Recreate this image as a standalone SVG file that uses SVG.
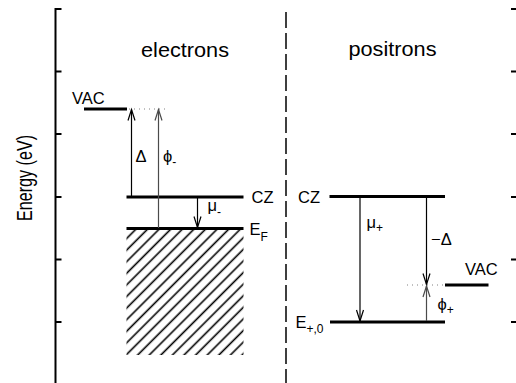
<svg xmlns="http://www.w3.org/2000/svg" width="516" height="383" viewBox="0 0 516 383">
<style>
text{font-family:"Liberation Sans",Arial,sans-serif;fill:#000}
.lbl{font-size:16.5px}
.sub{font-size:12px}
.title{font-size:19.5px}
.axis{stroke:#000;stroke-width:2;fill:none}
.level{stroke:#000;stroke-width:3;fill:none}
.arr{stroke:#000;stroke-width:1.2;fill:none}
.arrg{stroke:#4a4a4a;stroke-width:1.2;fill:none}
.dot{stroke:#808080;stroke-width:1;stroke-dasharray:1 4;fill:none}
</style>
<defs>
<marker id="ah" viewBox="-12 -5 14 10" refX="0" refY="0" markerWidth="14" markerHeight="10" markerUnits="userSpaceOnUse" orient="auto" overflow="visible">
<path d="M-11,-3.5 L0,0 L-11,3.5" fill="none" stroke="#000" stroke-width="1.2"/>
</marker>
<marker id="ahg" viewBox="-12 -5 14 10" refX="0" refY="0" markerWidth="14" markerHeight="10" markerUnits="userSpaceOnUse" orient="auto" overflow="visible">
<path d="M-11,-3.5 L0,0 L-11,3.5" fill="none" stroke="#4a4a4a" stroke-width="1.2"/>
</marker>
<pattern id="hatch" patternUnits="userSpaceOnUse" width="8.2" height="10" patternTransform="rotate(45)">
<line x1="4" y1="0" x2="4" y2="10" stroke="#000" stroke-width="1.6"/>
</pattern>
</defs>

<g id="axes">
<line class="axis" x1="55.5" y1="8" x2="55.5" y2="383"/>
<path class="axis" d="M55.5,9H61.5M55.5,71.5H61.5M55.5,134H61.5M55.5,197H61.5M55.5,259.5H61.5M55.5,322H61.5"/>
<path class="axis" d="M511,9H516M511,71.5H516M511,134H516M511,197H516M511,259.5H516M511,322H516"/>
<line x1="286" y1="12" x2="286" y2="383" stroke="#000" stroke-width="1.5" stroke-dasharray="16 5"/>
<text transform="translate(31.5,178) rotate(-90) scale(1,1.3)" text-anchor="middle" style="font-size:16.5px" textLength="86" lengthAdjust="spacingAndGlyphs">Energy (eV)</text>
</g>

<g id="electrons-title"><text class="title" x="185" y="56.5" text-anchor="middle" textLength="88" lengthAdjust="spacingAndGlyphs">electrons</text></g>
<g id="positrons-title"><text class="title" x="392.5" y="56" text-anchor="middle" textLength="88" lengthAdjust="spacingAndGlyphs">positrons</text></g>

<g id="e-vac">
<line class="level" x1="84" y1="109" x2="127" y2="109"/>
<line class="dot" x1="129" y1="109" x2="166" y2="109"/>
<text class="lbl" x="72" y="103.5">VAC</text>
</g>
<g id="e-cz">
<line class="level" x1="126.5" y1="197" x2="243.5" y2="197"/>
<text class="lbl" x="251.5" y="203">CZ</text>
</g>
<g id="e-ef">
<rect x="126.5" y="229" width="117" height="126" fill="url(#hatch)"/>
<line class="level" x1="126.5" y1="228.5" x2="243.5" y2="228.5"/>
<text class="lbl" x="249.5" y="234.5">E<tspan class="sub" dy="6.5">F</tspan></text>
</g>

<g id="p-cz">
<line class="level" x1="329.5" y1="196.5" x2="445" y2="196.5"/>
<text class="lbl" x="298" y="203">CZ</text>
</g>
<g id="p-vac">
<line class="level" x1="445" y1="285" x2="488.5" y2="285"/>
<line class="dot" x1="407" y1="285" x2="444" y2="285"/>
<text class="lbl" x="465" y="275">VAC</text>
</g>
<g id="p-e0">
<line class="level" x1="330" y1="322" x2="445" y2="322"/>
<text class="lbl" x="295.5" y="328">E<tspan class="sub" dy="5">+,0</tspan></text>
</g>

<g id="connectors">
<line class="arr" x1="131.5" y1="197" x2="131.5" y2="109.5" marker-end="url(#ah)"/>
<line class="arrg" x1="158.5" y1="228" x2="158.5" y2="109.5" marker-end="url(#ahg)"/>
<line class="arr" x1="197.5" y1="197" x2="197.5" y2="227.5" marker-end="url(#ah)"/>
<line class="arr" x1="360" y1="197" x2="360" y2="321" marker-end="url(#ah)"/>
<line class="arr" x1="426.5" y1="197" x2="426.5" y2="284.5" marker-end="url(#ah)"/>
<line class="arrg" x1="426.5" y1="321" x2="426.5" y2="286" marker-end="url(#ahg)"/>
<text class="lbl" x="135.5" y="162">Δ</text>
<text class="lbl" x="163" y="162">ϕ<tspan class="sub" dy="4">-</tspan></text>
<text class="lbl" x="207.5" y="210.5">μ<tspan class="sub" dy="5">-</tspan></text>
<text class="lbl" x="366.5" y="228">μ<tspan class="sub" dy="4">+</tspan></text>
<text class="lbl" x="431" y="245">−Δ</text>
<text class="lbl" x="437.5" y="309.5">ϕ<tspan class="sub" dy="4">+</tspan></text>
</g>
</svg>
